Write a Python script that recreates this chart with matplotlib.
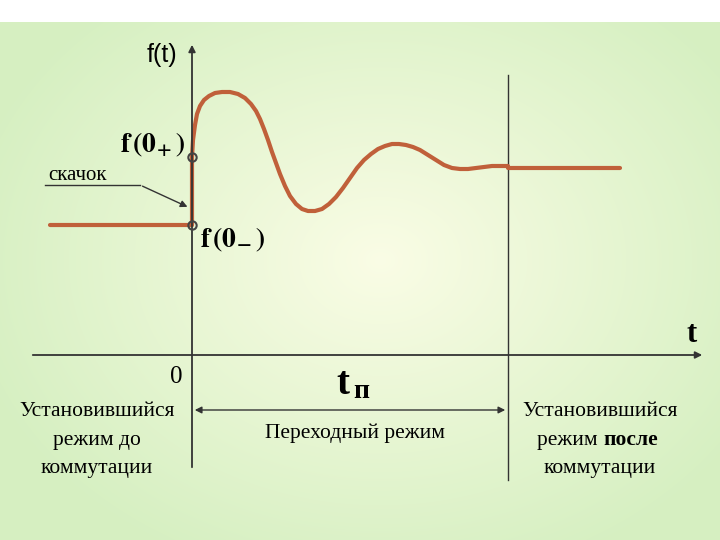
import numpy as np
import matplotlib
matplotlib.use("Agg")
import matplotlib.pyplot as plt
plt.rcParams['mathtext.fontset'] = 'stix'

# data (in pixel-like units)
curve_x = [192,193,195,197,200,204,209,215,222,230,238,245,251,256,260,264,268,272,276,280,285,290,296,302,308,315,322,329,336,343,350,357,364,371,378,385,392,399,406,413,420,428,436,444,452,460,468,476,484,492,500,508]
curve_y = [157,140,125,114,106,100,96,93,92,92,94,98,104,111,119,129,140,152,163,174,186,196,204,209,211,211,209,204,197,188,178,168,160,154,149,146,144,144,145,147,150,155,160,165,168,169,169,168,167,166,166,166]
before_x = [50,192]; before_y = [225,225]
after_x = [508,620]; after_y = [168,168]
jump_x = [192,192]; jump_y = [225,157]
left_lines = ['Установившийся', 'режим до', 'коммутации']

fig = plt.figure(figsize=(7.2,5.4), dpi=100)
ax = fig.add_axes([0,0,1,1])
ax.set_xlim(0,720); ax.set_ylim(540,0); ax.axis('off')

yy, xx = np.mgrid[0:540,0:720]
r = np.sqrt(((xx-380)/420)**2 + ((yy-260)/330)**2)
r = np.clip(r,0,1)[...,None]
c0 = np.array([0.98,0.99,0.90]); c1 = np.array([0.84,0.94,0.76])
img = c0*(1-r)+c1*r
img[:22] = 1.0
ax.imshow(img, extent=[0,720,540,0], zorder=0)

col = '#C0603A'
kw = dict(color=col, lw=3, zorder=3, solid_capstyle='round', solid_joinstyle='round')
ax.plot(curve_x, curve_y, **kw)
ax.plot(before_x, before_y, **kw)
ax.plot(after_x, after_y, **kw)
ax.plot(jump_x, jump_y, **kw)

ax.annotate('', xy=(705,355), xytext=(30,355), arrowprops=dict(arrowstyle='-|>', color='#333', lw=1.3))
ax.annotate('', xy=(192,42), xytext=(192,470), arrowprops=dict(arrowstyle='-|>', color='#333', lw=1.3))
ax.plot([508,508],[75,480], color='#333', lw=1)
ax.plot([192,192],[157,225], 'o', ms=6, mfc='none', mec='#444', mew=1.5, zorder=4)

ax.plot([45,140],[185,185], color='#333', lw=1)
ax.annotate('', xy=(190,208), xytext=(140,185), arrowprops=dict(arrowstyle='-|>', color='#333', lw=1))

ax.annotate('', xy=(508,410), xytext=(192,410), arrowprops=dict(arrowstyle='<|-|>', color='#333', lw=1, mutation_scale=10))

serif = 'Liberation Serif'
ax.text(162,55,'f(t)', fontsize=18, ha='center', va='center', family='Liberation Sans')
ax.text(120,145,r'$\mathbf{f\,(0_{+}\,)}$', fontsize=20, ha='left', va='center')
ax.text(200,240,r'$\mathbf{f\,(0_{-}\,)}$', fontsize=20, ha='left', va='center')
ax.text(48,175,'скачок', fontsize=15, ha='left', va='center', family=serif)
ax.text(692,335,'t', fontsize=22, ha='center', va='center', family=serif, fontweight='bold')
ax.text(176,377,'0', fontsize=18, ha='center', va='center', family=serif)
ax.text(343,385,'t', fontsize=28, ha='center', va='center', family=serif, fontweight='bold')
ax.text(361,392,'п', fontsize=20, ha='center', va='center', family=serif, fontweight='bold')
for i, s in enumerate(left_lines):
    ax.text(97,412+28*i, s, fontsize=15.5, ha='center', va='center', family=serif)
ax.text(355,433,'Переходный режим', fontsize=15.5, ha='center', va='center', family=serif)
ax.text(600,412,'Установившийся', fontsize=15.5, ha='center', va='center', family=serif)
ax.text(603,440,'режим ', fontsize=15.5, ha='right', va='center', family=serif)
ax.text(603,440,'после', fontsize=15.5, ha='left', va='center', family=serif, fontweight='bold')
ax.text(600,468,'коммутации', fontsize=15.5, ha='center', va='center', family=serif)

fig.savefig('out.png', dpi=100)
